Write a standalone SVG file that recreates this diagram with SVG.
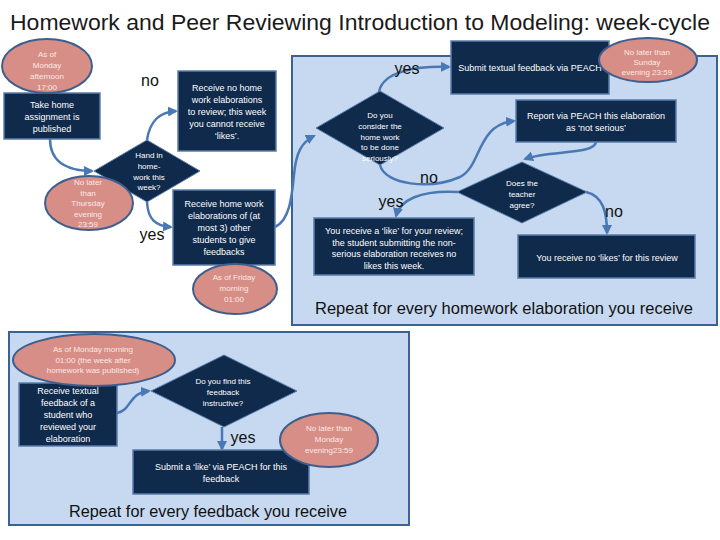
<svg xmlns="http://www.w3.org/2000/svg" width="720" height="540" viewBox="0 0 720 540">
<style>
text{font-family:"Liberation Sans",Arial,sans-serif;}
.box{fill:#0f2a4b;stroke:#5a7eab;stroke-width:1.5;}
.dia{fill:#0f2a4b;stroke:#5a7eab;stroke-width:1;}
.ell{fill:#d78e86;stroke:#3e5f8e;stroke-width:2;}
.panel{fill:#c6d9f0;stroke:#3b6292;stroke-width:2;}
.bt{fill:#ffffff;font-size:9px;text-anchor:middle;}
.dt{fill:#ffffff;font-size:8px;text-anchor:middle;}
.et{fill:#fbe9e6;font-size:8px;text-anchor:middle;}
.lab{fill:#111111;font-size:16px;text-anchor:middle;}
.rep{fill:#111111;font-size:17px;text-anchor:middle;}
.con{fill:none;stroke:#4a78b5;stroke-width:2.5;marker-end:url(#arr);}
</style>
<defs>
<marker id="arr" viewBox="0 0 10 10" refX="8" refY="5" markerWidth="4" markerHeight="4" orient="auto" markerUnits="strokeWidth">
<path d="M0,0 L10,5 L0,10 z" fill="#4a78b5"/>
</marker>
</defs>
<rect width="720" height="540" fill="#ffffff"/>
<text x="10" y="30" font-size="22" fill="#1a1a1a" textLength="700" lengthAdjust="spacingAndGlyphs">Homework and Peer Reviewing Introduction to Modeling: week-cycle</text>

<g id="panel-homework">
<rect class="panel" x="292" y="56" width="425" height="269"/>
<text class="rep" x="504" y="314" textLength="378" lengthAdjust="spacingAndGlyphs">Repeat for every homework elaboration you receive</text>
</g>
<g id="panel-feedback">
<rect class="panel" x="9" y="332" width="400" height="193"/>
<text class="rep" x="208" y="517" textLength="278" lengthAdjust="spacingAndGlyphs">Repeat for every feedback you receive</text>
</g>

<g id="connectors">
<path class="con" d="M50,139 C50,165 72,171 92,171"/>
<path class="con" d="M147,140 C150,120 160,112 176,111"/>
<path class="con" d="M147,202 C148,220 156,226 171,227"/>
<path class="con" d="M275,227 C290,220 292,195 294,175 C296,152 302,142 314,136"/>
<path class="con" d="M379,92 C383,70 420,66 449,67"/>
<path class="con" d="M380,165 C385,185 430,190 460,177 C482,166 476,125 514,121"/>
<path class="con" d="M596,142 C594,155 550,150 525,159"/>
<path class="con" d="M458,192 C420,190 400,200 396,216"/>
<path class="con" d="M586,192 C603,196 607,212 607,233"/>
<path class="con" d="M117,413 C132,410 128,393 149,391"/>
<path class="con" d="M222,427 L222,449"/>
</g>

<g id="labels">
<text class="lab" x="150" y="86">no</text>
<text class="lab" x="152" y="240">yes</text>
<text class="lab" x="407" y="74">yes</text>
<text class="lab" x="429" y="183">no</text>
<text class="lab" x="391" y="207">yes</text>
<text class="lab" x="614" y="217">no</text>
<text class="lab" x="243" y="443">yes</text>
</g>

<g id="take-home">
<rect class="box" x="4" y="93" width="96" height="46"/>
<text class="bt" x="52" y="108">Take home</text>
<text class="bt" x="52" y="120">assignment is</text>
<text class="bt" x="52" y="132">published</text>
</g>
<g id="hand-in">
<polygon class="dia" points="147,140 200,171 147,202 94,171"/>
<text class="dt" x="149" y="158">Hand in</text>
<text class="dt" x="149" y="169">home-</text>
<text class="dt" x="149" y="180">work this</text>
<text class="dt" x="149" y="190">week?</text>
</g>
<g id="no-elaborations">
<rect class="box" x="178" y="71" width="98" height="80"/>
<text class="bt" x="227" y="91">Receive no home</text>
<text class="bt" x="227" y="103">work elaborations</text>
<text class="bt" x="227" y="115">to review; this week</text>
<text class="bt" x="227" y="127">you cannot receive</text>
<text class="bt" x="227" y="139">‘likes’.</text>
</g>
<g id="receive-elaborations">
<rect class="box" x="173" y="190" width="102" height="75"/>
<text class="bt" x="224" y="207">Receive home work</text>
<text class="bt" x="224" y="219">elaborations of (at</text>
<text class="bt" x="224" y="231">most 3) other</text>
<text class="bt" x="224" y="243">students to give</text>
<text class="bt" x="224" y="255">feedbacks</text>
</g>
<g id="submit-feedback">
<rect class="box" x="451" y="41" width="158" height="53"/>
<text class="bt" x="530" y="71">Submit textual feedback via PEACH</text>
</g>
<g id="consider-serious">
<polygon class="dia" points="380,91 444,128 380,165 316,128"/>
<text class="dt" x="380" y="118">Do you</text>
<text class="dt" x="380" y="129">consider the</text>
<text class="dt" x="380" y="140">home work</text>
<text class="dt" x="380" y="150">to be done</text>
<text class="dt" x="380" y="161">seriously?</text>
</g>
<g id="report">
<rect class="box" x="516" y="100" width="160" height="42"/>
<text class="bt" x="596" y="119">Report via PEACH this elaboration</text>
<text class="bt" x="596" y="131">as ‘not serious’</text>
</g>
<g id="teacher-agree">
<polygon class="dia" points="522,162 587,192 522,223 457,192"/>
<text class="dt" x="522" y="186">Does the</text>
<text class="dt" x="522" y="197">teacher</text>
<text class="dt" x="522" y="208">agree?</text>
</g>
<g id="receive-like">
<rect class="box" x="314" y="218" width="160" height="57"/>
<text class="bt" x="394" y="234" font-size="8.5">You receive a ‘like’ for your review;</text>
<text class="bt" x="394" y="245.5" font-size="8.5">the student submitting the non-</text>
<text class="bt" x="394" y="257" font-size="8.5">serious elaboration receives no</text>
<text class="bt" x="394" y="268.5" font-size="8.5">likes this week.</text>
</g>
<g id="no-likes">
<rect class="box" x="518" y="235" width="177" height="43"/>
<text class="bt" x="607" y="261" font-size="8.5">You receive no ‘likes’ for this review</text>
</g>
<g id="receive-textual">
<rect class="box" x="19" y="383" width="98" height="63"/>
<text class="bt" x="68" y="394">Receive textual</text>
<text class="bt" x="68" y="406">feedback of a</text>
<text class="bt" x="68" y="418">student who</text>
<text class="bt" x="68" y="430">reviewed your</text>
<text class="bt" x="68" y="442">elaboration</text>
</g>
<g id="find-instructive">
<polygon class="dia" points="224,355 297,391 224,427 151,391"/>
<text class="dt" x="223" y="384">Do you find this</text>
<text class="dt" x="223" y="395">feedback</text>
<text class="dt" x="223" y="406">instructive?</text>
</g>
<g id="submit-like">
<rect class="box" x="133" y="450" width="176" height="44"/>
<text class="bt" x="221" y="470">Submit a ‘like’ via PEACH for this</text>
<text class="bt" x="221" y="482">feedback</text>
</g>

<g id="time-monday-afternoon">
<ellipse class="ell" cx="47" cy="66" rx="45" ry="27"/>
<text class="et" x="47" y="57">As of</text>
<text class="et" x="47" y="68">Monday</text>
<text class="et" x="47" y="79">afternoon</text>
<text class="et" x="47" y="90">17:00</text>
</g>
<g id="time-thursday">
<ellipse class="ell" cx="89" cy="203" rx="44" ry="27"/>
<text class="et" x="88" y="185">No later</text>
<text class="et" x="88" y="196">than</text>
<text class="et" x="88" y="206">Thursday</text>
<text class="et" x="88" y="217">evening</text>
<text class="et" x="88" y="227">23:59</text>
</g>
<g id="time-friday">
<ellipse class="ell" cx="235" cy="289" rx="42" ry="25"/>
<text class="et" x="234" y="280">As of Friday</text>
<text class="et" x="234" y="291">morning</text>
<text class="et" x="234" y="302">01:00</text>
</g>
<g id="time-sunday">
<ellipse class="ell" cx="648" cy="60" rx="49" ry="22"/>
<text class="et" x="647" y="55">No later than</text>
<text class="et" x="647" y="65">Sunday</text>
<text class="et" x="647" y="75">evening 23:59</text>
</g>
<g id="time-monday-morning">
<ellipse class="ell" cx="94" cy="360" rx="81" ry="26"/>
<text class="et" x="93" y="352">As of Monday morning</text>
<text class="et" x="93" y="363">01:00 (the week after</text>
<text class="et" x="93" y="373">homework was published)</text>
</g>
<g id="time-monday-evening">
<ellipse class="ell" cx="329" cy="440" rx="49" ry="27"/>
<text class="et" x="329" y="431">No later than</text>
<text class="et" x="329" y="442">Monday</text>
<text class="et" x="329" y="453">evening23:59</text>
</g>
</svg>
